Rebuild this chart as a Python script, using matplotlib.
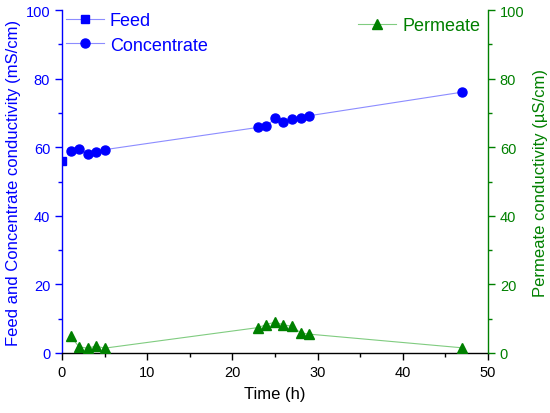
import matplotlib
matplotlib.use('Agg')
import matplotlib.pyplot as plt
from matplotlib.ticker import MultipleLocator

plt.rcParams['font.family'] = ['Liberation Sans', 'DejaVu Sans']

# data
feed_t = [0]
feed_val = [56.0]

conc_t = [1, 2, 3, 4, 5, 23, 24, 25, 26, 27, 28, 29, 47]
conc_val = [59.0, 59.6, 57.9, 58.7, 59.3, 65.8, 66.1, 68.5, 67.4, 68.3, 68.6, 69.2, 76.1]

perm_t = [1, 2, 3, 4, 5, 23, 24, 25, 26, 27, 28, 29, 47]
perm_val = [4.9, 1.8, 1.4, 2.0, 1.4, 7.4, 8.3, 9.0, 8.2, 7.8, 5.9, 5.5, 1.5]

blue = '#0000ff'
blue_line = '#8c8cff'
green = '#008000'
green_line = '#80cc80'

fig = plt.figure(figsize=(5.5, 4.14), dpi=100)
ax = fig.add_axes([0.1127, 0.145, 0.7745, 0.828])
ax2 = ax.twinx()

ax.plot(feed_t, feed_val, color=blue_line, lw=0.8, marker='s', ms=6,
        mfc=blue, mec=blue, label='Feed')
ax.plot(conc_t, conc_val, color=blue_line, lw=0.8, marker='o', ms=6.5,
        mfc=blue, mec=blue, label='Concentrate')
ax2.plot(perm_t, perm_val, color=green_line, lw=0.8, marker='^', ms=7,
         mfc=green, mec=green, label='Permeate')

for a in (ax, ax2):
    a.set_xlim(0, 50)
    a.set_ylim(0, 100)
    a.spines['top'].set_visible(False)
    a.xaxis.set_major_locator(MultipleLocator(10))
    a.xaxis.set_minor_locator(MultipleLocator(5))
    a.yaxis.set_major_locator(MultipleLocator(20))
    a.yaxis.set_minor_locator(MultipleLocator(10))
    a.tick_params(which='major', direction='out', length=5, width=1, labelsize=10.5)
    a.tick_params(which='minor', direction='out', length=3, width=1)

ax.spines['left'].set_color(blue)
ax.spines['right'].set_visible(False)
ax.spines['left'].set_linewidth(1)
ax.spines['bottom'].set_linewidth(1)
ax.tick_params(axis='y', which='both', colors=blue)
ax2.spines['right'].set_color(green)
ax2.spines['right'].set_linewidth(1)
ax2.spines['left'].set_visible(False)
ax2.spines['bottom'].set_visible(False)
ax2.tick_params(axis='y', which='both', colors=green)

ax.set_xlabel('Time (h)', fontsize=12, labelpad=5)
ax.set_ylabel('Feed and Concentrate conductivity (mS/cm)', fontsize=12, color=blue, labelpad=3)
ax2.set_ylabel('Permeate conductivity (\u00b5S/cm)', fontsize=12, color=green,
               rotation=90, labelpad=6)

leg1 = ax.legend(loc='upper left', bbox_to_anchor=(0.0, 1.005), frameon=False,
                 fontsize=13, handlelength=2.1, borderpad=0.2, borderaxespad=0.0,
                 labelspacing=0.42, handletextpad=0.35)
for t in leg1.get_texts():
    t.set_color(blue)
leg2 = ax2.legend(loc='upper right', bbox_to_anchor=(0.99, 0.99), frameon=False,
                  fontsize=13, handlelength=2.1, borderpad=0.2, borderaxespad=0.0,
                  handletextpad=0.35)
for t in leg2.get_texts():
    t.set_color(green)

fig.savefig('out.png', dpi=100)
